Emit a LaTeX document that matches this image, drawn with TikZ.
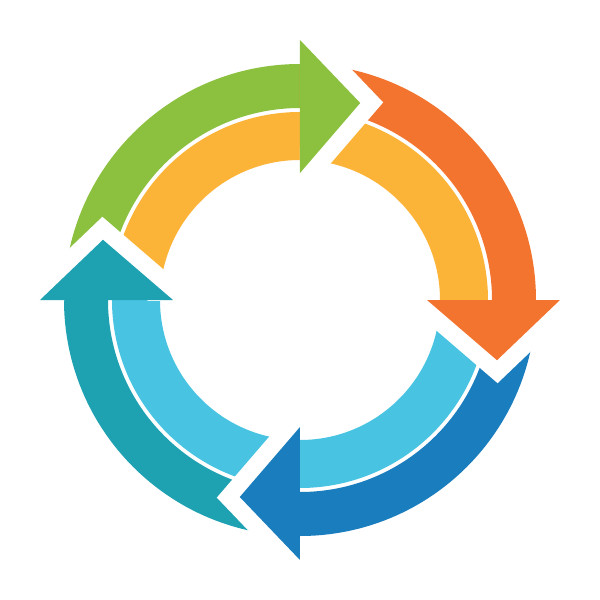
\documentclass[tikz,border=0pt]{standalone}
\definecolor{cgreen}{RGB}{140,193,64}
\definecolor{corange}{RGB}{243,116,46}
\definecolor{cyellow}{RGB}{252,180,56}
\definecolor{cblue}{RGB}{26,125,190}
\definecolor{clight}{RGB}{72,196,226}
\definecolor{cteal}{RGB}{30,162,178}
\tikzset{
  gapstroke/.style={white, line width=34pt, line join=miter},
}
\begin{document}
\begin{tikzpicture}[x=1pt,y=1pt]
\useasboundingbox[fill=white] (-300,-300) rectangle (300,300);
% bands
\foreach \r/\co/\ci in {0/cgreen/cyellow, -90/corange/cyellow, -180/cblue/clight, -270/cteal/clight}{
  \begin{scope}[rotate=\r]
    \fill[\co] (180:236) arc[start angle=180, end angle=90, radius=236]
      -- (90:192) arc[start angle=90, end angle=180, radius=192] -- cycle;
    \fill[\ci] (180:188) arc[start angle=180, end angle=90, radius=188]
      -- (90:140) arc[start angle=90, end angle=180, radius=140] -- cycle;
  \end{scope}
}
% heads
\foreach \r/\co in {0/cgreen, -90/corange, -180/cblue, -270/cteal}{
  \begin{scope}[rotate=\r]
    \begin{scope}
      \clip (0,0) rectangle (300,300);
      \draw[gapstroke] (90:260) -- (73:206) -- (90:127);
    \end{scope}
    \fill[\co] (90:260) -- (73:206) -- (90:127) -- cycle;
  \end{scope}
}
\end{tikzpicture}
\end{document}
